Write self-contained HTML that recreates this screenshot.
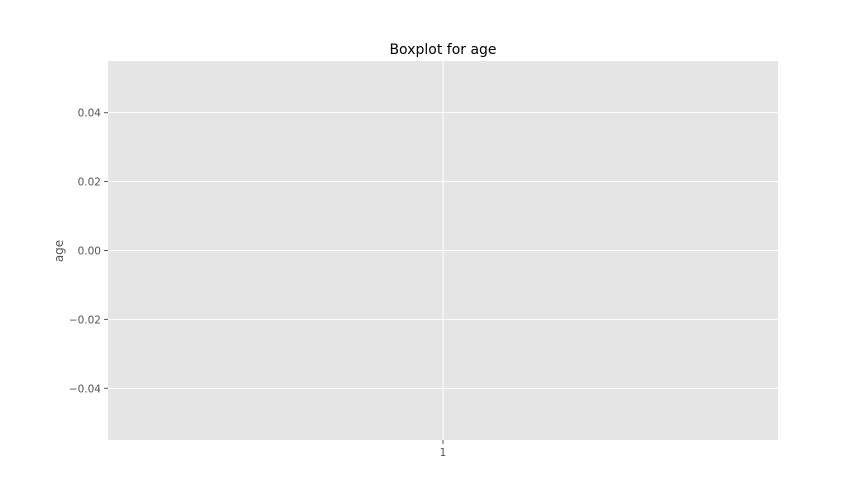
<!DOCTYPE html>
<html><head><meta charset="utf-8">
<style>
html,body{margin:0;padding:0;background:#fff;}
svg{display:block;font-family:"DejaVu Sans","Liberation Sans",sans-serif;}
</style></head>
<body>
<svg id="chart" width="864" height="504">
  <rect x="0" y="0" width="864" height="504" fill="#fff"/>
  <text x="443" y="54" text-anchor="middle" font-size="14" fill="#000">Boxplot for age</text>
  <text transform="translate(63,251) rotate(-90)" text-anchor="middle" font-size="12" fill="#555">age</text>
</svg>
<script>
const categories = ['1'];
const yTickValues = [-0.04, -0.02, 0.00, 0.02, 0.04];
const yTickLabels = ['\u22120.04', '\u22120.02', '0.00', '0.02', '0.04'];
const seriesValues = [[]];
const yDomain = [-0.055, 0.055];

const ns = 'http://www.w3.org/2000/svg';
const svg = document.getElementById('chart');
const plot = {x0:108, x1:778, y0:61, y1:440};
function yScale(v){ return plot.y1 - (v - yDomain[0])/(yDomain[1]-yDomain[0])*(plot.y1-plot.y0); }
function xScale(i){ return plot.x0 + (i+0.5)/categories.length*(plot.x1-plot.x0); }
function mk(tag, attrs){ const e=document.createElementNS(ns,tag); for(const k in attrs) e.setAttribute(k,attrs[k]); svg.appendChild(e); return e; }

const bg = mk('rect',{x:plot.x0,y:plot.y0,width:plot.x1-plot.x0,height:plot.y1-plot.y0,fill:'#e5e5e5'});



yTickValues.forEach((v,i)=>{
  const y = yScale(v);
  const g = mk('line',{x1:plot.x0,x2:plot.x1,y1:y,y2:y,stroke:'#fff','stroke-width':1});
  
  
  const t = mk('line',{x1:plot.x0-4,x2:plot.x0,y1:y,y2:y,stroke:'#555','stroke-width':1});
  
  
  const l = mk('text',{x:plot.x0-7,y:y+4,'text-anchor':'end','font-size':10.5,fill:'#555'});
  l.textContent = yTickLabels[i];
  
  
});

categories.forEach((c,i)=>{
  const x = xScale(i);
  const g = mk('line',{x1:x,x2:x,y1:plot.y0,y2:plot.y1,stroke:'#fff','stroke-width':1});
  
  
  const t = mk('line',{x1:x,x2:x,y1:plot.y1,y2:plot.y1+4,stroke:'#555','stroke-width':1});
  
  
  const l = mk('text',{x:x,y:plot.y1+16,'text-anchor':'middle','font-size':10.5,fill:'#555'});
  l.textContent = c;
  
  
  const vals = seriesValues[i].slice().sort((a,b)=>a-b);
  if(vals.length){
    const q=p=>vals[Math.floor(p*(vals.length-1))];
    const q1=q(0.25),q3=q(0.75),md=q(0.5);
    const b = mk('rect',{x:x-40,y:yScale(q3),width:80,height:yScale(q1)-yScale(q3),fill:'none',stroke:'#348abd'});
    
    
    const m = mk('line',{x1:x-40,x2:x+40,y1:yScale(md),y2:yScale(md),stroke:'#e24a33'});
    
    
  }
});
</script>
</body></html>
